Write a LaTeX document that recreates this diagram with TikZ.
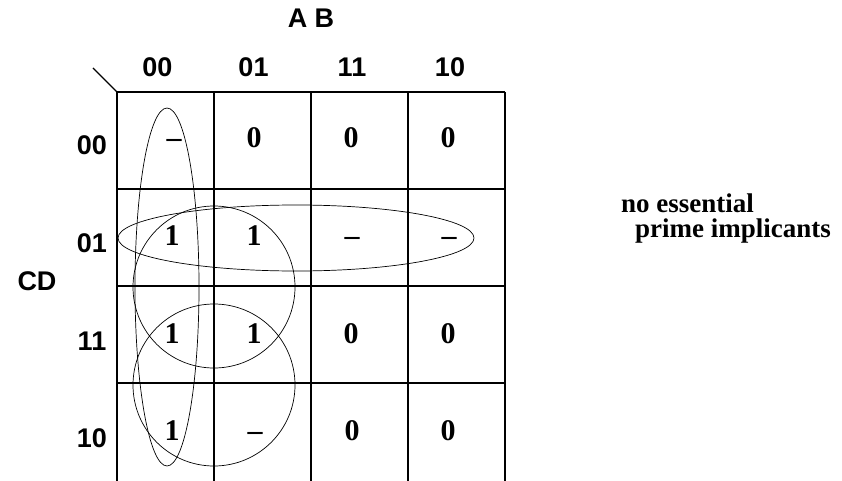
\documentclass[tikz,border=0pt]{standalone}
\usepackage{fontspec}
\setmainfont{Liberation Serif}
\newfontfamily\labfont{Liberation Sans}
\begin{document}
\begin{tikzpicture}[x=1pt,y=-1pt,
  lab/.style={font=\labfont\bfseries\fontsize{27}{30}\selectfont, anchor=base, inner sep=0pt},
  val/.style={font=\bfseries\fontsize{30}{30}\selectfont, anchor=base, inner sep=0pt},
  note/.style={font=\bfseries\fontsize{27}{25}\selectfont, anchor=base west, inner sep=0pt},
  gridline/.style={line width=1.8pt},
  loop/.style={line width=0.7pt}]
\useasboundingbox (0,0) rectangle (842,481);
% grid
\foreach \x in {117,214,311,408,505} \draw[gridline] (\x,92) -- (\x,481);
\foreach \y in {92,189,286,383} \draw[gridline] (117,\y) -- (505,\y);
\draw[line width=1.2pt] (93,68) -- (117,92);
% labels
\node[lab] (ab) at (311,28) {A B};
\node[lab] (c0) at (157.5,77) {00};
\node[lab] (c1) at (253.5,77) {01};
\node[lab] (c2) at (352,77) {11};
\node[lab] (c3) at (450,77) {10};
\node[lab] (r0) at (92,155) {00};
\node[lab] (r1) at (92,252) {01};
\node[lab] (r2) at (92,350) {11};
\node[lab] (r3) at (92,447) {10};
\node[lab] (cd) at (37,290) {CD};
% values
\node[val] (v00) at (174,148) {--};
\node[val] (v01) at (254,148) {0};
\node[val] (v02) at (351,148) {0};
\node[val] (v03) at (448,148) {0};
\node[val] (v10) at (172,245) {1};
\node[val] (v11) at (254,245) {1};
\node[val] (v12) at (352,245) {--};
\node[val] (v13) at (449,245) {--};
\node[val] (v20) at (172,343) {1};
\node[val] (v21) at (254,343) {1};
\node[val] (v22) at (351,343) {0};
\node[val] (v23) at (448,343) {0};
\node[val] (v30) at (172,440) {1};
\node[val] (v31) at (255,440) {--};
\node[val] (v32) at (352,440) {0};
\node[val] (v33) at (448,440) {0};
% groupings
\draw[loop] (167,287) ellipse [x radius=32, y radius=179];
\draw[loop] (296,238) ellipse [x radius=178, y radius=33];
\draw[loop] (214,287) circle [radius=81];
\draw[loop] (214,385) circle [radius=81];
% note
\node[note] (n1) at (621,212) {no essential};
\node[note] (n2) at (635,237) {prime implicants};
\end{tikzpicture}
\end{document}
